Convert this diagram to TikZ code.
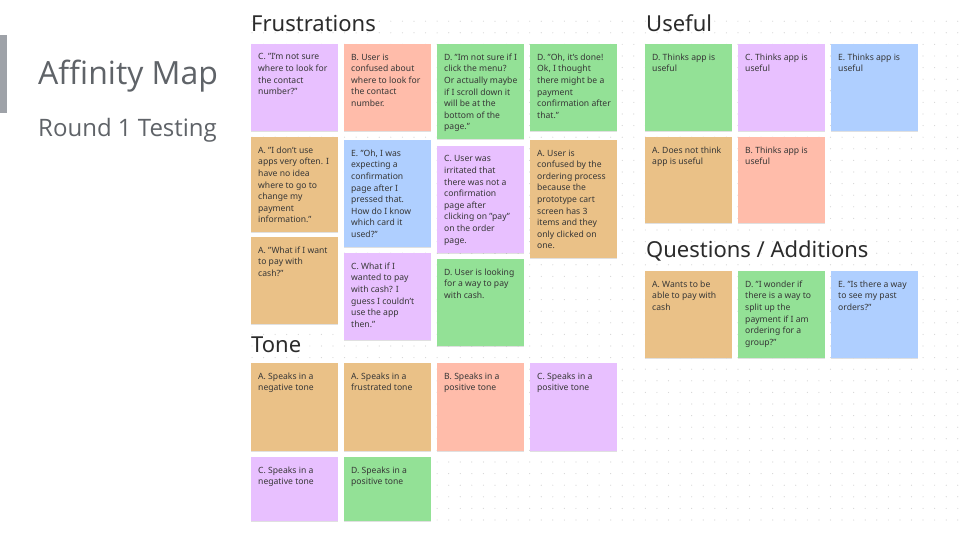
\documentclass[tikz,border=0pt]{standalone}
\usepackage{fontspec}
\setmainfont{Noto Sans}
\newfontfamily\slidefont{Open Sans}
\usetikzlibrary{shadows}

\definecolor{notepurple}{HTML}{E8C0FF}
\definecolor{notesalmon}{HTML}{FFBCAA}
\definecolor{notegreen}{HTML}{93E196}
\definecolor{notetan}{HTML}{EAC187}
\definecolor{noteblue}{HTML}{AFCFFF}
\definecolor{inkgray}{HTML}{363636}
\definecolor{headgray}{HTML}{2B2B2B}
\definecolor{titlegray}{HTML}{5F6368}
\definecolor{bargray}{HTML}{9EA2A8}
\definecolor{dotgray}{HTML}{D6D6D6}

% one sticky note: name, x, y (top-left, px), height, colour, text
\newcommand\stickynote[6]{%
  \node[note, fill=#5, minimum height=#4] (#1) at (#2,#3) {};
  \node[notetext] (#1-text) at (#1.north west) {#6};%
}

\begin{document}
\begin{tikzpicture}[x=1pt,y=-1pt,
  note/.style={anchor=north west, minimum width=87, inner sep=0, draw=none,
    general shadow={fill=black, opacity=0.12, shadow yshift=-1pt}},
  notetext/.style={anchor=north west, inner sep=0, xshift=7pt, yshift=-9.5pt,
    align=left, text=inkgray, font=\fontsize{8.6}{11.6}\selectfont},
  heading/.style={anchor=base west, inner sep=0, text=headgray,
    font=\fontsize{22}{24}\selectfont},
  slidetitle/.style={anchor=base west, inner sep=0, text=titlegray}]

\useasboundingbox[fill=white] (0,0) rectangle (960,540);

% dotted canvas
\foreach \i in {0,...,61}{
  \foreach \j in {0,...,43}{
    \fill[dotgray] (252+\i*11.57, 21.2+\j*11.6) circle[radius=0.6pt];
  }
}

% slide title block
\fill[bargray] (0,35) rectangle (7,113);
\node[slidetitle, font=\slidefont\fontsize{32}{36}\selectfont] (title) at (38,85) {Affinity Map};
\node[slidetitle, font=\slidefont\fontsize{24}{26}\selectfont] (subtitle) at (38,137) {Round 1 Testing};

% group headings
\node[heading] (hfrus) at (251,32) {Frustrations};
\node[heading] (huse) at (646,32) {Useful};
\node[heading] (hquest) at (646,257) {Questions / Additions};
\node[heading] (htone) at (251,352) {Tone};

% Frustrations
\stickynote{f1}{251}{44}{87}{notepurple}{C. "I'm not sure\\where to look for\\the contact\\number?"}
\stickynote{f2}{344}{44}{87}{notesalmon}{B. User is\\confused about\\where to look for\\the contact\\number.}
\stickynote{f3}{437}{44}{95}{notegreen}{D. "Im not sure if I\\click the menu?\\Or actually maybe\\if I scroll down it\\will be at the\\bottom of the\\page."}
\stickynote{f4}{530}{44}{87}{notegreen}{D. "Oh, it's done!\\Ok, I thought\\there might be a\\payment\\confirmation after\\that."}
\stickynote{f5}{251}{137}{95}{notetan}{A. "I don't use\\apps very often. I\\have no idea\\where to go to\\change my\\payment\\information."}
\stickynote{f6}{344}{140}{107}{noteblue}{E. "Oh, I was\\expecting a\\confirmation\\page after I\\pressed that.\\How do I know\\which card it\\used?"}
\stickynote{f7}{437}{146}{107}{notepurple}{C. User was\\irritated that\\there was not a\\confirmation\\page after\\clicking on "pay"\\on the order\\page.}
\stickynote{f8}{530}{140}{118}{notetan}{A. User is\\confused by the\\ordering process\\because the\\prototype cart\\screen has 3\\items and they\\only clicked on\\one.}
\stickynote{f9}{251}{237}{87}{notetan}{A. "What if I want\\to pay with\\cash?"}
\stickynote{f10}{344}{253}{87}{notepurple}{C. What if I\\wanted to pay\\with cash? I\\guess I couldn't\\use the app\\then."}
\stickynote{f11}{437}{259}{87}{notegreen}{D. User is looking\\for a way to pay\\with cash.}

% Useful
\stickynote{u1}{645}{44}{87}{notegreen}{D. Thinks app is\\useful}
\stickynote{u2}{738}{44}{87}{notepurple}{C. Thinks app is\\useful}
\stickynote{u3}{831}{44}{87}{noteblue}{E. Thinks app is\\useful}
\stickynote{u4}{645}{137}{86}{notetan}{A. Does not think\\app is useful}
\stickynote{u5}{738}{137}{86}{notesalmon}{B. Thinks app is\\useful}

% Questions / Additions
\stickynote{q1}{645}{271}{87}{notetan}{A. Wants to be\\able to pay with\\cash}
\stickynote{q2}{738}{271}{87}{notegreen}{D. "I wonder if\\there is a way to\\split up the\\payment if I am\\ordering for a\\group?"}
\stickynote{q3}{831}{271}{87}{noteblue}{E. "Is there a way\\to see my past\\orders?"}

% Tone
\stickynote{t1}{251}{363}{88}{notetan}{A. Speaks in a\\negative tone}
\stickynote{t2}{344}{363}{88}{notetan}{A. Speaks in a\\frustrated tone}
\stickynote{t3}{437}{363}{88}{notesalmon}{B. Speaks in a\\positive tone}
\stickynote{t4}{530}{363}{88}{notepurple}{C. Speaks in a\\positive tone}
\stickynote{t5}{251}{457}{64}{notepurple}{C. Speaks in a\\negative tone}
\stickynote{t6}{344}{457}{64}{notegreen}{D. Speaks in a\\positive tone}

\end{tikzpicture}
\end{document}
